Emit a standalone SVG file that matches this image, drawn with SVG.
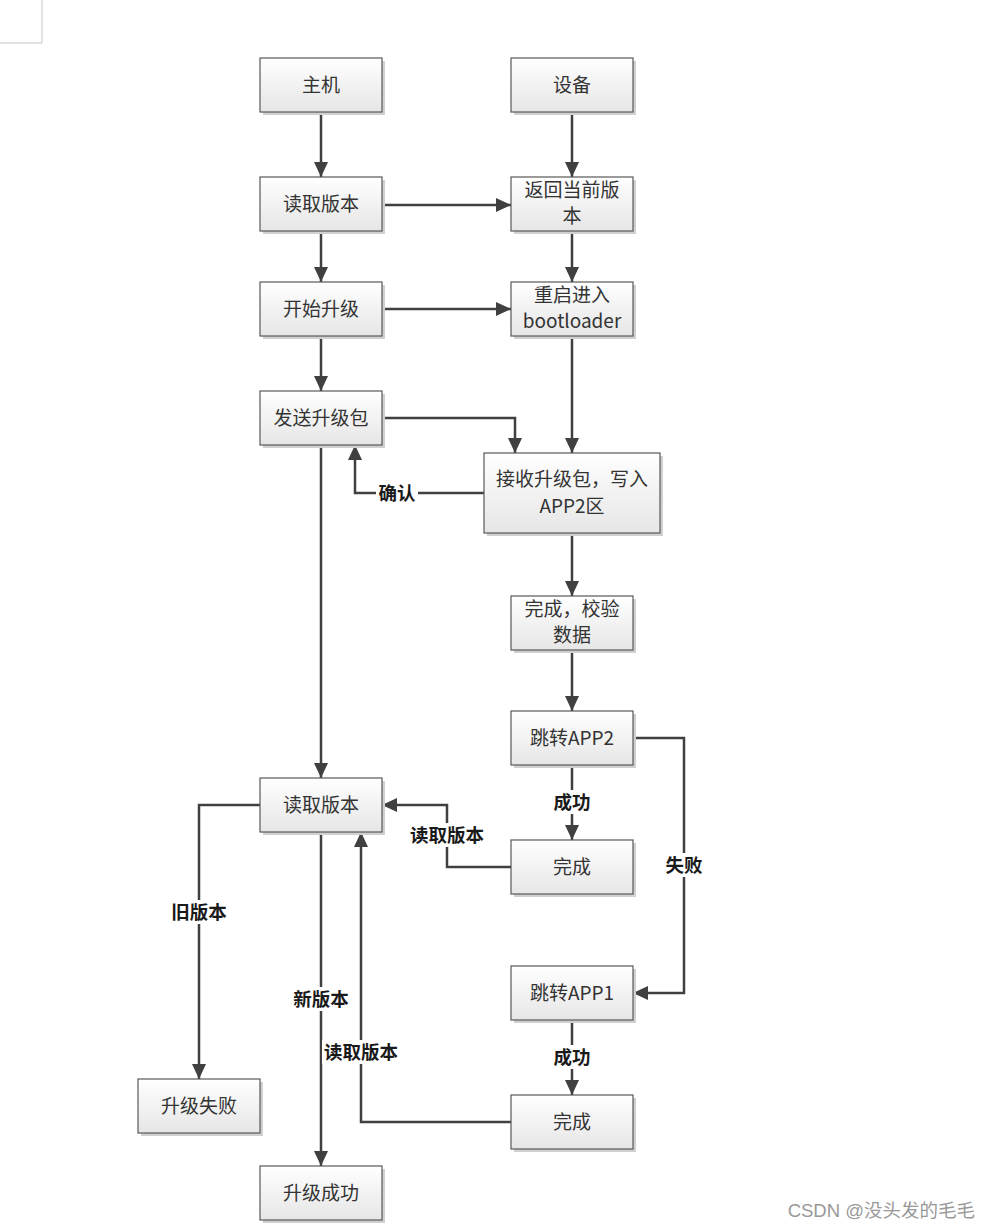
<svg xmlns="http://www.w3.org/2000/svg" width="992" height="1229" viewBox="0 0 992 1229">
<defs>
<linearGradient id="g" x1="0" y1="0" x2="0" y2="1">
<stop offset="0" stop-color="#ffffff"/>
<stop offset="1" stop-color="#e6e6e6"/>
</linearGradient>
<marker id="ar" markerUnits="userSpaceOnUse" markerWidth="16" markerHeight="14" refX="15" refY="7" orient="auto">
<path d="M0,0 L15,7 L0,14 z" fill="#404040"/>
</marker>
<style>
.sh{fill:#d0d0d0;}
.bx{fill:url(#g);stroke:#595959;stroke-width:1.2;}
.t{font-family:"Noto Sans CJK SC","Liberation Sans",sans-serif;font-size:19px;fill:#333;text-anchor:middle;}
.c{fill:none;stroke:#404040;stroke-width:2.5;}
.a{marker-end:url(#ar);}
.lb{font-family:"Noto Sans CJK SC","Liberation Sans",sans-serif;font-size:18.5px;font-weight:bold;fill:#1a1a1a;text-anchor:middle;}
.bg{fill:#fff;}
</style>
</defs>
<rect width="992" height="1229" fill="#fff"/>
<path d="M42,0 V43 H0" fill="none" stroke="#c8c8c8" stroke-width="1"/>

<g id="connectors">
<line class="c a" x1="321" y1="112" x2="321" y2="177"/>
<line class="c a" x1="572" y1="112" x2="572" y2="177"/>
<line class="c a" x1="382" y1="205" x2="511" y2="205"/>
<line class="c a" x1="321" y1="231" x2="321" y2="282"/>
<line class="c a" x1="572" y1="231" x2="572" y2="282"/>
<line class="c a" x1="382" y1="309" x2="511" y2="309"/>
<line class="c a" x1="321" y1="336" x2="321" y2="391"/>
<polyline class="c a" points="382,418 515,418 515,453"/>
<line class="c a" x1="572" y1="336" x2="572" y2="453"/>
<polyline class="c a" points="484,493 355,493 355,445"/>
<line class="c a" x1="321" y1="445" x2="321" y2="778"/>
<line class="c a" x1="572" y1="533" x2="572" y2="596"/>
<line class="c a" x1="572" y1="650" x2="572" y2="711"/>
<line class="c a" x1="572" y1="765" x2="572" y2="840"/>
<polyline class="c a" points="633,738 684,738 684,993 633,993"/>
<polyline class="c a" points="511,867 447,867 447,805 382,805"/>
<line class="c a" x1="572" y1="1020" x2="572" y2="1095"/>
<polyline class="c a" points="511,1122 361,1122 361,832"/>
<polyline class="c a" points="260,805 199,805 199,1079"/>
<line class="c a" x1="321" y1="832" x2="321" y2="1166"/>

<rect class="bg" x="376" y="481" width="42" height="24"/>
<text class="lb" x="397" y="500">确认</text>
<rect class="bg" x="551" y="790" width="42" height="24"/>
<text class="lb" x="572" y="809">成功</text>
<rect class="bg" x="663" y="853" width="42" height="24"/>
<text class="lb" x="684" y="872">失败</text>
<rect class="bg" x="408" y="823" width="78" height="24"/>
<text class="lb" x="447" y="842">读取版本</text>
<rect class="bg" x="551" y="1045" width="42" height="24"/>
<text class="lb" x="572" y="1064">成功</text>
<rect class="bg" x="322" y="1040" width="78" height="24"/>
<text class="lb" x="361" y="1059">读取版本</text>
<rect class="bg" x="170" y="900" width="58" height="24"/>
<text class="lb" x="199" y="919">旧版本</text>
<rect class="bg" x="292" y="987" width="58" height="24"/>
<text class="lb" x="321" y="1006">新版本</text>
</g>

<g id="n-host"><rect class="sh" x="263" y="61" width="122" height="54"/><rect class="bx" x="260" y="58" width="122" height="54"/><text class="t" x="321" y="92">主机</text></g>
<g id="n-dev"><rect class="sh" x="514" y="61" width="122" height="54"/><rect class="bx" x="511" y="58" width="122" height="54"/><text class="t" x="572" y="92">设备</text></g>
<g id="n-read1"><rect class="sh" x="263" y="180" width="122" height="54"/><rect class="bx" x="260" y="177" width="122" height="54"/><text class="t" x="321" y="211">读取版本</text></g>
<g id="n-ret"><rect class="sh" x="514" y="180" width="122" height="54"/><rect class="bx" x="511" y="177" width="122" height="54"/><text class="t" x="572" y="197">返回当前版</text><text class="t" x="572" y="223">本</text></g>
<g id="n-start"><rect class="sh" x="263" y="285" width="122" height="54"/><rect class="bx" x="260" y="282" width="122" height="54"/><text class="t" x="321" y="316">开始升级</text></g>
<g id="n-reboot"><rect class="sh" x="514" y="285" width="122" height="54"/><rect class="bx" x="511" y="282" width="122" height="54"/><text class="t" x="572" y="302">重启进入</text><text class="t" x="572" y="328">bootloader</text></g>
<g id="n-send"><rect class="sh" x="263" y="394" width="122" height="54"/><rect class="bx" x="260" y="391" width="122" height="54"/><text class="t" x="321" y="425">发送升级包</text></g>
<g id="n-recv"><rect class="sh" x="487" y="456" width="176" height="80"/><rect class="bx" x="484" y="453" width="176" height="80"/><text class="t" x="572" y="486">接收升级包，写入</text><text class="t" x="572" y="513">APP2区</text></g>
<g id="n-verify"><rect class="sh" x="514" y="599" width="122" height="54"/><rect class="bx" x="511" y="596" width="122" height="54"/><text class="t" x="572" y="616">完成，校验</text><text class="t" x="572" y="642">数据</text></g>
<g id="n-app2"><rect class="sh" x="514" y="714" width="122" height="54"/><rect class="bx" x="511" y="711" width="122" height="54"/><text class="t" x="572" y="745">跳转APP2</text></g>
<g id="n-read2"><rect class="sh" x="263" y="781" width="122" height="54"/><rect class="bx" x="260" y="778" width="122" height="54"/><text class="t" x="321" y="812">读取版本</text></g>
<g id="n-done1"><rect class="sh" x="514" y="843" width="122" height="54"/><rect class="bx" x="511" y="840" width="122" height="54"/><text class="t" x="572" y="874">完成</text></g>
<g id="n-app1"><rect class="sh" x="514" y="969" width="122" height="54"/><rect class="bx" x="511" y="966" width="122" height="54"/><text class="t" x="572" y="1000">跳转APP1</text></g>
<g id="n-fail"><rect class="sh" x="141" y="1082" width="122" height="54"/><rect class="bx" x="138" y="1079" width="122" height="54"/><text class="t" x="199" y="1113">升级失败</text></g>
<g id="n-done2"><rect class="sh" x="514" y="1098" width="122" height="54"/><rect class="bx" x="511" y="1095" width="122" height="54"/><text class="t" x="572" y="1129">完成</text></g>
<g id="n-ok"><rect class="sh" x="263" y="1169" width="122" height="54"/><rect class="bx" x="260" y="1166" width="122" height="54"/><text class="t" x="321" y="1200">升级成功</text></g>

<text x="975" y="1217" font-family="'Liberation Sans','Noto Sans CJK SC',sans-serif" font-size="18.5" fill="#999" text-anchor="end">CSDN @没头发的毛毛</text>
</svg>
